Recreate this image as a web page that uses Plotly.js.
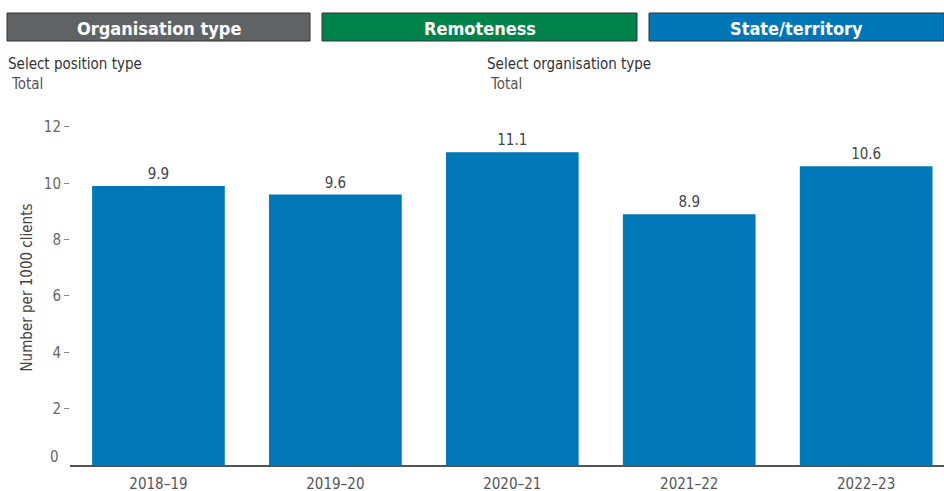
<!DOCTYPE html>
<html><head><meta charset="utf-8">
<script src="https://cdn.plot.ly/plotly-3.0.1.min.js"></script>
<style>html,body{margin:0;padding:0;background:#fff;}#chart{width:944px;height:491px;}</style>
</head><body><div id="chart"></div>
<script>
const categories = ["2018–19", "2019–20", "2020–21", "2021–22", "2022–23"];
const values = [9.9, 9.6, 11.1, 8.9, 10.6];
const valueLabels = ["9.9", "9.6", "11.1", "8.9", "10.6"];
const yTicks = [2, 4, 6, 8, 10, 12];
const buttonLabels = ["Organisation type", "Remoteness", "State/territory"];
const filterTitles = ["Select position type", "Select organisation type"];
const filterValues = ["Total", "Total"];

const W = 944, H = 491;
const mL = 70, mR = 0, mT = 110, mB = 26;
const pw = W - mL - mR, ph = H - mT - mB;
const px = x => (x - mL) / pw;
const py = y => (H - mB - y) / ph;

const FONT = "'DejaVu Sans Condensed', 'Liberation Sans Narrow', 'Noto Sans', sans-serif";
const btnColors = ["#5f6366", "#00834a", "#0076b6"];
const btnX = [[7, 310], [322, 637], [649, 944]];
const shapes = [], annotations = [];
buttonLabels.forEach((t, i) => {
  shapes.push({type: 'rect', xref: 'paper', yref: 'paper', x0: px(btnX[i][0]), x1: px(btnX[i][1]),
    y0: py(41), y1: py(13), fillcolor: btnColors[i], line: {color: '#333', width: 1}});
  annotations.push({xref: 'paper', yref: 'paper', x: px((btnX[i][0] + btnX[i][1]) / 2), y: py(28),
    text: '<b>' + t + '</b>', showarrow: false, xanchor: 'center', yanchor: 'middle',
    font: {family: FONT, size: 18, color: '#ffffff'}});
});
const filtX = [6, 485];
filterTitles.forEach((t, i) => {
  annotations.push({xref: 'paper', yref: 'paper', x: px(filtX[i]), y: py(64), text: t, showarrow: false,
    xanchor: 'left', yanchor: 'middle', font: {family: FONT, size: 15, color: '#333'}});
  annotations.push({xref: 'paper', yref: 'paper', x: px(filtX[i] + 3), y: py(84), text: filterValues[i], showarrow: false,
    xanchor: 'left', yanchor: 'middle', font: {family: FONT, size: 15, color: '#555'}});
});
// bottom tick label "0" sits slightly above the baseline, as in the source
annotations.push({xref: 'paper', yref: 'paper', x: px(61), y: py(457), text: '0', showarrow: false,
  xanchor: 'right', yanchor: 'middle', font: {family: FONT, size: 15, color: '#666'}});

const trace = {
  type: 'bar', x: categories, y: values, marker: {color: '#0077b6'},
  text: valueLabels, textposition: 'outside', cliponaxis: false,
  textfont: {family: FONT, size: 15, color: '#444'}, hoverinfo: 'x+y'
};
const layout = {
  width: W, height: H, margin: {l: mL, r: mR, t: mT, b: mB},
  paper_bgcolor: '#fff', plot_bgcolor: '#fff', showlegend: false, bargap: 0.25,
  font: {family: FONT},
  xaxis: {type: 'category', range: [-0.5, 4.44], showgrid: false, zeroline: false,
    showline: true, linecolor: '#555', linewidth: 1.5, ticks: '', ticklabelstandoff: 4,
    tickfont: {family: FONT, size: 15, color: '#555'}},
  yaxis: {range: [0, 12.6], tickvals: yTicks, showgrid: false, zeroline: false, showline: false,
    ticks: 'outside', ticklen: 5, tickcolor: '#888', ticklabelstandoff: 0,
    tickfont: {family: FONT, size: 15, color: '#666'},
    title: {text: 'Number per 1000 clients', font: {family: FONT, size: 15, color: '#444'}, standoff: 7}},
  shapes: shapes, annotations: annotations
};
Plotly.newPlot('chart', [trace], layout, {displayModeBar: false, staticPlot: true});
</script></body></html>
